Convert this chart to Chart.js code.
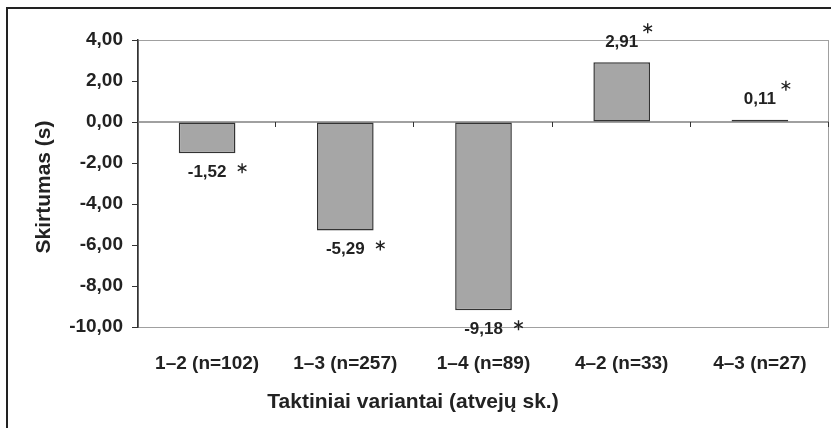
<!DOCTYPE html>
<html>
<head>
<meta charset="utf-8">
<script src="https://cdn.jsdelivr.net/npm/chart.js@4"></script>
<style>
  html, body { margin: 0; padding: 0; background: #fff; }
  #wrap { width: 831px; height: 428px; }
</style>
</head>
<body>
<div id="wrap"><canvas id="myChart" width="831" height="428"></canvas></div>
<script>
// data
var categories = ["1–2 (n=102)", "1–3 (n=257)", "1–4 (n=89)", "4–2 (n=33)", "4–3 (n=27)"];
var differences = [-1.52, -5.29, -9.18, 2.91, 0.11];
var significant = [true, true, true, true, true];
var yTitle = "Skirtumas (s)";
var xTitle = "Taktiniai variantai (atvejų sk.)";

var FONT = "'Liberation Sans', Arial, sans-serif";
var TEXT = "#222";

function fmt(v) {
  return v.toFixed(2).replace(".", ",");
}

function drawStar(ctx, cx, cy, r) {
  ctx.save();
  ctx.strokeStyle = TEXT;
  ctx.lineWidth = 1.4;
  ctx.beginPath();
  for (var k = 0; k < 3; k++) {
    var a = Math.PI / 2 + k * Math.PI / 3;
    ctx.moveTo(cx + r * Math.cos(a), cy - r * Math.sin(a));
    ctx.lineTo(cx - r * Math.cos(a), cy + r * Math.sin(a));
  }
  ctx.stroke();
  ctx.restore();
}

var framePlugin = {
  id: "frame",
  beforeDraw: function (chart) {
    var ctx = chart.ctx, a = chart.chartArea;
    ctx.save();
    // outer border
    ctx.strokeStyle = "#222";
    ctx.lineWidth = 2;
    ctx.beginPath();
    ctx.moveTo(7, 430);
    ctx.lineTo(7, 8);
    ctx.lineTo(833, 8);
    ctx.stroke();
    // plot area border
    ctx.strokeStyle = "#a0a0a0";
    ctx.lineWidth = 1;
    ctx.strokeRect(a.left + 0.5, a.top + 0.5, a.right - a.left - 1, a.bottom - a.top);
    ctx.restore();
  },
  beforeDatasetsDraw: function (chart) {
    var ctx = chart.ctx, a = chart.chartArea;
    var x = chart.scales.x, y = chart.scales.y;
    var y0 = y.getPixelForValue(0);
    ctx.save();
    ctx.strokeStyle = "#808080";
    ctx.lineWidth = 1.5;
    ctx.beginPath();
    ctx.moveTo(a.left, y0);
    ctx.lineTo(a.right, y0);
    ctx.stroke();
    // ticks between categories
    ctx.strokeStyle = "#333";
    ctx.lineWidth = 1;
    var step = (a.right - a.left) / categories.length;
    ctx.beginPath();
    for (var i = 1; i <= categories.length; i++) {
      var bx = Math.round(x.getPixelForValue(i - 1) + step / 2) - 0.5;
      ctx.moveTo(bx, y0);
      ctx.lineTo(bx, y0 + 5);
    }
    ctx.stroke();
    ctx.restore();
  },
  afterDraw: function (chart) {
    var ctx = chart.ctx;
    var meta = chart.getDatasetMeta(0);
    ctx.save();
    ctx.fillStyle = TEXT;
    ctx.textAlign = "center";
    ctx.textBaseline = "middle";
    ctx.font = "bold 17px " + FONT;
    meta.data.forEach(function (bar, i) {
      var v = differences[i];
      var ly = v < 0 ? bar.y + 19 : bar.y - 20;
      ctx.fillText(fmt(v), bar.x, ly);
      if (significant[i]) {
        if (v < 0) drawStar(ctx, bar.x + 35, ly - 4, 5);
        else drawStar(ctx, bar.x + 26, ly - 14, 5);
      }
    });
    // axis titles
    ctx.font = "bold 21px " + FONT;
    ctx.fillText(xTitle, 413, 402);
    ctx.translate(44, 187);
    ctx.rotate(-Math.PI / 2);
    ctx.fillText(yTitle, 0, 0);
    ctx.restore();
  }
};

var canvas = document.getElementById("myChart");
var myChart = new Chart(canvas, {
  type: "bar",
  data: {
    labels: categories,
    datasets: [
      {
        data: differences,
        backgroundColor: "#a6a6a6",
        borderColor: "#333",
        borderWidth: 1.5,
        borderSkipped: false,
        barPercentage: 0.41,
        categoryPercentage: 1
      }
    ]
  },
  options: {
    responsive: false,
    animation: false,
    layout: { padding: { top: 40, right: 2, left: 0, bottom: 0 } },
    plugins: {
      legend: { display: false },
      tooltip: { enabled: false }
    },
    scales: {
      x: {
        grid: { display: false },
        border: { display: false },
        ticks: {
          color: TEXT,
          font: { family: FONT, size: 19, weight: "bold" },
          padding: 17,
          maxRotation: 0,
          autoSkip: false
        },
        afterFit: function (scale) { scale.height = 101; }
      },
      y: {
        min: -10,
        max: 4,
        grid: {
          drawOnChartArea: false,
          drawTicks: true,
          tickLength: 6,
          color: "#333"
        },
        border: { display: true, color: "#333", width: 1.5 },
        ticks: {
          stepSize: 2,
          color: TEXT,
          padding: 9,
          font: { family: FONT, size: 19, weight: "bold" },
          callback: function (v) { return fmt(v); }
        },
        afterFit: function (scale) { scale.width = 138; }
      }
    }
  },
  plugins: [framePlugin]
});
</script>
</body>
</html>
